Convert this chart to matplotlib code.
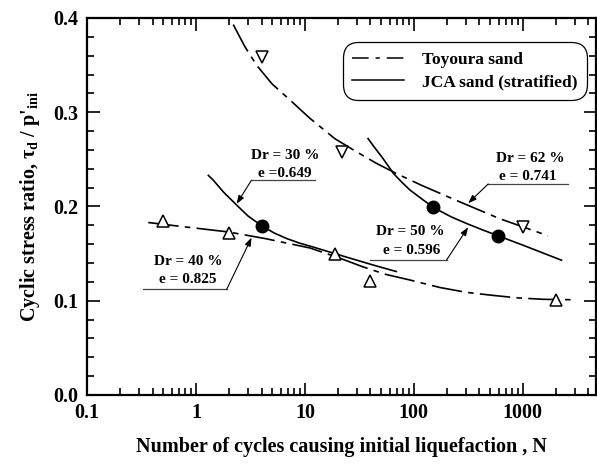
import matplotlib
matplotlib.use("Agg")
import matplotlib.pyplot as plt
from matplotlib.lines import Line2D
from matplotlib.ticker import MultipleLocator, LogLocator, NullFormatter

plt.rcParams["font.family"] = ["Liberation Serif", "DejaVu Serif"]
plt.rcParams["font.weight"] = "bold"
plt.rcParams["mathtext.fontset"] = "custom"
plt.rcParams["mathtext.rm"] = "Liberation Serif:bold"
plt.rcParams["mathtext.it"] = "Liberation Serif:bold"
plt.rcParams["mathtext.bf"] = "Liberation Serif:bold"
plt.rcParams["mathtext.default"] = "rm"
plt.rcParams["lines.scale_dashes"] = False

# measured points
toy_loose_N = [0.5, 2, 19, 40, 2000]
toy_loose_csr = [0.185, 0.172, 0.150, 0.121, 0.101]
toy_dense_N = [4, 22, 1000]
toy_dense_csr = [0.359, 0.258, 0.178]
jca_N = [4, 150, 590]
jca_csr = [0.179, 0.199, 0.169]

# trend curves
curve_toy62_N = [2.2, 2.8, 3.6, 5.0, 7.3, 11.0, 18.8, 29.8, 45, 69, 120, 263, 615, 1700]
curve_toy62_csr = [0.393, 0.370, 0.350, 0.330, 0.313, 0.294, 0.272, 0.258, 0.246,
                   0.235, 0.222, 0.205, 0.187, 0.169]
curve_toy40_N = [0.365, 0.71, 1.98, 4.3, 11.1, 20, 34, 55, 92, 174, 300, 500, 900, 1550, 3000]
curve_toy40_csr = [0.183, 0.179, 0.173, 0.166, 0.156, 0.146, 0.136, 0.128, 0.122,
                   0.114, 0.109, 0.106, 0.103, 0.1015, 0.101]
curve_jca50_N = [38, 43, 50.5, 57, 65, 78, 92, 120, 151, 220, 304, 420, 590, 1000, 2265]
curve_jca50_csr = [0.272, 0.2635, 0.253, 0.2445, 0.235, 0.2255, 0.2175, 0.2075, 0.199,
                   0.189, 0.182, 0.1755, 0.169, 0.159, 0.143]
curve_jca30_N = [1.3, 1.44, 1.8, 2.36, 3.0, 4, 5.2, 6.8, 9.0, 11.9, 18.8, 30, 45, 69]
curve_jca30_csr = [0.233, 0.228, 0.215, 0.2016, 0.190, 0.1796, 0.172, 0.166, 0.161,
                   0.157, 0.150, 0.143, 0.137, 0.131]

x_ticks = [0.1, 1, 10, 100, 1000]
x_ticklabels = ["0.1", "1", "10", "100", "1000"]

toy_dash = (22, 4.5, 4, 4.5)

fig = plt.figure(figsize=(5.97, 4.66), dpi=100)
ax = fig.add_axes([0.1457, 0.1524, 0.8523, 0.809])

ax.plot(curve_toy62_N, curve_toy62_csr, color="k", lw=1.2, dashes=toy_dash)
ax.plot(curve_toy40_N, curve_toy40_csr, color="k", lw=1.2, dashes=toy_dash)
ax.plot(curve_jca50_N, curve_jca50_csr, color="k", lw=1.2)
ax.plot(curve_jca30_N, curve_jca30_csr, color="k", lw=1.2)

ax.plot(toy_loose_N, toy_loose_csr, ls="none", marker="^", ms=8.5,
        mfc="white", mec="k", mew=1.1)
ax.plot(toy_dense_N, toy_dense_csr, ls="none", marker="v", ms=8.5,
        mfc="white", mec="k", mew=1.1)
ax.plot(jca_N, jca_csr, ls="none", marker="o", ms=9, mfc="k", mec="k")

ax.set_xscale("log")
ax.set_xlim(0.1, 4677)
ax.set_xticks(x_ticks)
ax.set_xticklabels(x_ticklabels)
ax.xaxis.set_minor_locator(LogLocator(base=10, subs=range(2, 10)))
ax.xaxis.set_minor_formatter(NullFormatter())
ax.yaxis.set_major_locator(MultipleLocator(0.1))
ax.yaxis.set_minor_locator(MultipleLocator(0.02))
ax.set_ylim(0.0, 0.4)
ax.set_yticks([0.0, 0.1, 0.2, 0.3, 0.4])
ax.set_yticklabels(["0.0", "0.1", "0.2", "0.3", "0.4"])

ax.tick_params(which="both", direction="in", top=True, right=True,
               labelsize=14.5, width=1.2)
ax.tick_params(which="major", length=9, pad=6)
ax.tick_params(which="minor", length=5)
for s in ax.spines.values():
    s.set_linewidth(1.6)

ax.set_xlabel("Number of cycles causing initial liquefaction , N",
              fontsize=14.5, fontweight="bold", labelpad=10)
ax.set_ylabel("Cyclic stress ratio, τ$_{d}$ / p'$_{ini}$",
              fontsize=14.5, fontweight="bold", labelpad=8)

# annotations: two text lines, underline (x0, x1, y), arrow tip
notes = [
    ("Dr = 30 %", "e =0.649", (6.56, 0.2546), (6.6, 0.2355), (3.24, 12.4, 0.228), (2.36, 0.2027)),
    ("Dr = 40 %", "e = 0.825", (0.85, 0.1414), (0.85, 0.1220), (0.329, 1.915, 0.1121), (3.24, 0.167)),
    ("Dr = 62 %", "e = 0.741", (1159, 0.251), (1112, 0.2316), (481, 2606, 0.2239), (315, 0.2034)),
    ("Dr = 50 %", "e = 0.596", (91.8, 0.1733), (95.2, 0.1538), (39.4, 199.6, 0.1432), (315, 0.178)),
]
for i, (t1, t2, p1, p2, ul, tip) in enumerate(notes):
    ax.text(p1[0], p1[1], t1, ha="center", va="center", fontsize=11, fontweight="bold")
    ax.text(p2[0], p2[1], t2, ha="center", va="center", fontsize=11, fontweight="bold")
    ax.plot([ul[0], ul[1]], [ul[2], ul[2]], color="#444444", lw=0.9)
    start = (ul[1], ul[2]) if i in (1, 3) else (ul[0], ul[2])
    ax.annotate("", xy=tip, xytext=start,
                arrowprops=dict(arrowstyle="-|>,head_length=0.5,head_width=0.18",
                                color="k", lw=0.8, shrinkA=0, shrinkB=0))

handles = [Line2D([], [], color="k", lw=1.1, dashes=(12, 5, 3, 5)),
           Line2D([], [], color="k", lw=1.1)]
leg = ax.legend(handles, ["Toyoura sand", "JCA sand (stratified)"],
                loc="upper right", bbox_to_anchor=(0.982, 0.936),
                fontsize=12.5, handlelength=3.0, handletextpad=1.0,
                frameon=True, fancybox=True, edgecolor="k", framealpha=1,
                borderpad=0.55, labelspacing=0.35, borderaxespad=0)
leg.get_frame().set_linewidth(0.9)
leg.get_frame().set_boxstyle("round,pad=0,rounding_size=0.9")

fig.savefig("out.png", dpi=100)
